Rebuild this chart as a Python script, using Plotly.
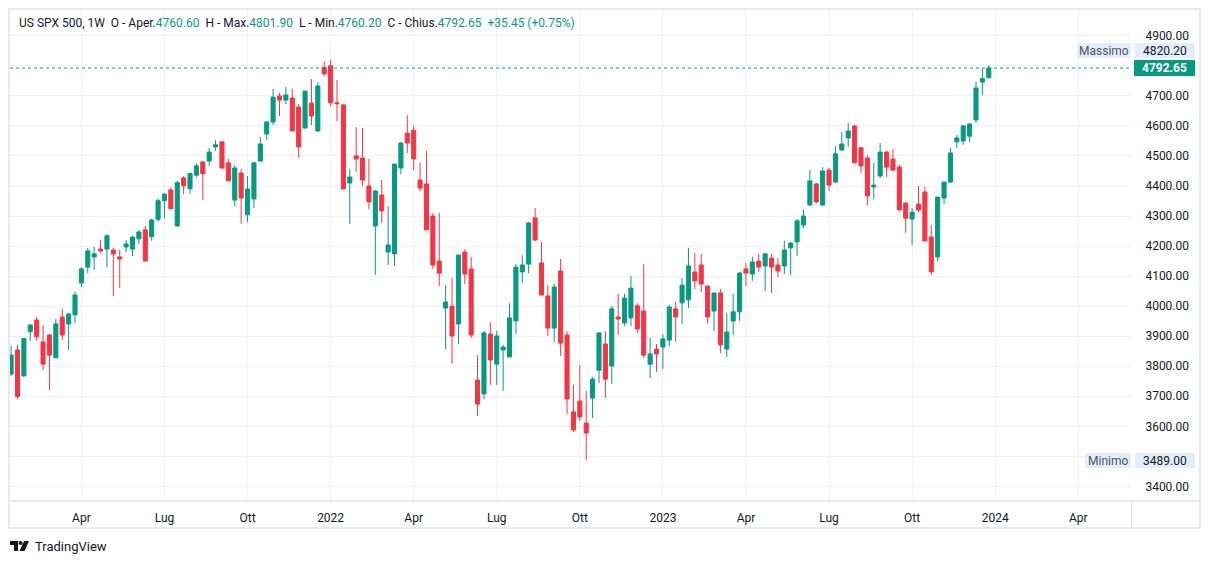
import plotly.graph_objects as go
import pandas as pd

# Weekly candles, Monday dates, starting 2021-01-18
week_start = "2021-01-18"
opens = [3774, 3854, 3768, 3915, 3954, 3881, 3904, 3828, 3964, 3941,
         3971, 4077, 4130, 4164, 4190, 4190, 4187, 4164, 4197, 4190,
         4224, 4254, 4231, 4289, 4351, 4387, 4267, 4427, 4391, 4436,
         4480, 4483, 4530, 4547, 4477, 4353, 4443, 4304, 4357, 4483,
         4573, 4613, 4700, 4686, 4693, 4663, 4593, 4676, 4583, 4795,
         4800, 4677, 4670, 4410, 4500, 4493, 4400, 4267, 4370, 4180,
         4174, 4460, 4576, 4586, 4420, 4407, 4300, 4150, 3994, 4000,
         3941, 4180, 4124, 3754, 3708, 3907, 3807, 3854, 3831, 3951,
         4114, 4140, 4294, 4144, 4034, 3927, 4117, 3904, 3648, 3684,
         3611, 3694, 3787, 3874, 3801, 3964, 3944, 3961, 4001, 3984,
         3807, 3857, 3864, 3887, 3991, 4011, 4021, 4114, 4137, 4067,
         3984, 4044, 3857, 3951, 3981, 4124, 4107, 4150, 4134, 4160,
         4137, 4134, 4194, 4214, 4270, 4337, 4407, 4337, 4453, 4413,
         4520, 4560, 4600, 4527, 4493, 4397, 4433, 4513, 4490, 4463,
         4343, 4290, 4340, 4380, 4230, 4164, 4360, 4413, 4547, 4550,
         4566, 4620, 4746, 4760.60]
highs = [3867, 3871, 3895, 3941, 3964, 3937, 3907, 3957, 3991, 3977,
         4048, 4130, 4194, 4197, 4220, 4240, 4194, 4187, 4220, 4234,
         4254, 4267, 4291, 4358, 4376, 4396, 4418, 4433, 4444, 4476,
         4484, 4527, 4553, 4549, 4490, 4470, 4457, 4433, 4480, 4563,
         4616, 4723, 4710, 4730, 4723, 4673, 4716, 4756, 4746, 4814,
         4820.20, 4753, 4673, 4457, 4596, 4593, 4490, 4387, 4420, 4333,
         4473, 4547, 4636, 4600, 4477, 4517, 4310, 4310, 4070, 4094,
         4170, 4190, 4164, 3837, 3917, 3947, 3917, 3871, 4010, 4140,
         4170, 4280, 4327, 4214, 4070, 4074, 4157, 3917, 3738, 3804,
         3718, 3764, 3911, 3917, 4001, 4041, 4041, 4100, 4010, 4140,
         3894, 3874, 3907, 4004, 4014, 4094, 4194, 4177, 4174, 4067,
         4044, 4057, 3977, 4041, 4114, 4144, 4164, 4174, 4177, 4174,
         4160, 4217, 4214, 4290, 4323, 4453, 4410, 4463, 4460, 4533,
         4580, 4610, 4603, 4530, 4503, 4477, 4543, 4517, 4523, 4470,
         4347, 4327, 4400, 4397, 4270, 4363, 4413, 4527, 4570, 4603,
         4610, 4746, 4790, 4801.90]
lows = [3768, 3691, 3765, 3885, 3885, 3787, 3721, 3828, 3887, 3854,
        3943, 4064, 4110, 4120, 4177, 4130, 4034, 4061, 4180, 4167,
        4207, 4150, 4218, 4282, 4292, 4324, 4265, 4373, 4374, 4429,
        4353, 4467, 4517, 4457, 4417, 4333, 4274, 4280, 4327, 4483,
        4553, 4603, 4633, 4673, 4583, 4493, 4590, 4603, 4581, 4766,
        4667, 4616, 4390, 4274, 4447, 4400, 4323, 4104, 4277, 4137,
        4134, 4440, 4510, 4453, 4383, 4254, 4124, 4067, 3857, 3807,
        3874, 4074, 3894, 3634, 3691, 3738, 3738, 3718, 3831, 3907,
        4077, 4110, 4217, 4037, 3901, 3881, 3834, 3641, 3581, 3618,
        3489.00, 3628, 3744, 3694, 3741, 3904, 3934, 3934, 3911, 3827,
        3761, 3781, 3791, 3867, 3881, 3941, 3994, 4057, 4047, 3941,
        3917, 3844, 3831, 3904, 3951, 4067, 4084, 4114, 4050, 4044,
        4097, 4107, 4104, 4167, 4260, 4333, 4343, 4333, 4383, 4410,
        4517, 4530, 4477, 4443, 4337, 4357, 4427, 4430, 4450, 4320,
        4244, 4204, 4313, 4217, 4104, 4150, 4340, 4410, 4527, 4537,
        4547, 4610, 4703, 4760.20]
closes = [3837, 3699, 3892, 3937, 3898, 3807, 3837, 3941, 3904, 3974,
          4037, 4124, 4184, 4174, 4184, 4234, 4174, 4157, 4207, 4230,
          4247, 4150, 4287, 4351, 4373, 4324, 4411, 4401, 4442, 4467,
          4441, 4513, 4537, 4460, 4417, 4460, 4360, 4390, 4477, 4540,
          4613, 4696, 4686, 4703, 4583, 4530, 4716, 4633, 4733, 4773,
          4677, 4674, 4390, 4430, 4490, 4420, 4347, 4383, 4317, 4204,
          4473, 4543, 4543, 4490, 4393, 4254, 4137, 4110, 4014, 3901,
          4170, 4107, 3904, 3674, 3911, 3821, 3901, 3864, 3961, 4130,
          4137, 4277, 4220, 4037, 3927, 4064, 3877, 3691, 3588, 3631,
          3578, 3757, 3911, 3757, 3991, 3957, 4027, 4060, 3924, 3837,
          3841, 3841, 3891, 3997, 3964, 4070, 4134, 4084, 4074, 3964,
          4044, 3871, 3914, 3981, 4110, 4110, 4147, 4130, 4174, 4130,
          4117, 4187, 4210, 4284, 4300, 4417, 4347, 4450, 4403, 4507,
          4540, 4583, 4477, 4467, 4367, 4403, 4513, 4463, 4453, 4320,
          4293, 4313, 4320, 4217, 4114, 4363, 4413, 4510, 4560, 4600,
          4606, 4726, 4757.20, 4792.65]

dates = pd.date_range(week_start, periods=len(opens), freq="7D")

x_tick_dates = ["2021-04-05", "2021-07-05", "2021-10-04", "2022-01-03", "2022-04-04",
                "2022-07-04", "2022-10-03", "2023-01-02", "2023-04-03", "2023-07-03",
                "2023-10-02", "2024-01-01", "2024-04-01"]
x_tick_labels = ["Apr", "Lug", "Ott", "2022", "Apr", "Lug", "Ott", "2023", "Apr", "Lug",
                 "Ott", "2024", "Apr"]
y_ticks = list(range(3400, 5000, 100))
# 4800 and 3500 are covered by the price labels on the axis
y_labels = ["" if v in (4800, 3500) else f"{v:.2f}" for v in y_ticks]

last_price = 4792.65
max_price = 4820.20
min_price = 3489.00

GREEN = "#089981"
RED = "#F23645"
TXT = "#131722"
GRID = "#F0F1F3"
BORDER = "#E0E3EB"
FONT = "Roboto, 'Liberation Sans', sans-serif"

# pixel -> paper helpers (plot area x 10..1131, y 10..501)
def px(x):
    return (x - 10) / 1121.0

def py(y):
    return (501 - y) / 491.0

fig = go.Figure()
fig.add_trace(go.Candlestick(
    x=dates, open=opens, high=highs, low=lows, close=closes,
    increasing=dict(line=dict(color=GREEN, width=1), fillcolor=GREEN),
    decreasing=dict(line=dict(color=RED, width=1), fillcolor=RED),
    whiskerwidth=0, hoverinfo="skip", showlegend=False,
))

shapes = []
# outer frame
shapes.append(dict(type="rect", xref="paper", yref="paper",
                   x0=px(9), x1=px(1200), y0=py(528), y1=py(9),
                   line=dict(color=BORDER, width=1.5), fillcolor="rgba(0,0,0,0)", layer="above"))
# time axis separator
shapes.append(dict(type="line", xref="paper", yref="paper",
                   x0=px(9), x1=px(1200), y0=py(501), y1=py(501),
                   line=dict(color=BORDER, width=1.5), layer="above"))
# price axis separator in time-axis area
shapes.append(dict(type="line", xref="paper", yref="paper",
                   x0=px(1131.5), x1=px(1131.5), y0=py(528), y1=py(501),
                   line=dict(color=BORDER, width=1), layer="above"))
# dotted current price line
shapes.append(dict(type="line", xref="paper", yref="y",
                   x0=0, x1=1, y0=last_price, y1=last_price,
                   line=dict(color=GREEN, width=1, dash="dot"), layer="above"))

LBL_BG = "#E3EEFC"
# Massimo / Minimo boxes
for (x0, x1, y0, y1) in [(1077, 1131, 43, 58), (1135, 1195, 43, 58),
                         (1085, 1131, 453, 468), (1135, 1195, 453, 468)]:
    shapes.append(dict(type="rect", xref="paper", yref="paper",
                       x0=px(x0), x1=px(x1), y0=py(y1), y1=py(y0),
                       line=dict(width=0), fillcolor=LBL_BG, layer="above"))
# current price box
shapes.append(dict(type="rect", xref="paper", yref="paper",
                   x0=px(1134), x1=px(1195), y0=py(76), y1=py(60),
                   line=dict(width=0), fillcolor=GREEN, layer="above"))

# TradingView logo (simple shapes)
shapes.append(dict(type="rect", xref="paper", yref="paper",
                   x0=px(10), x1=px(18), y0=py(545), y1=py(541),
                   line=dict(width=0), fillcolor=TXT))
shapes.append(dict(type="rect", xref="paper", yref="paper",
                   x0=px(14), x1=px(18), y0=py(551), y1=py(541),
                   line=dict(width=0), fillcolor=TXT))
shapes.append(dict(type="circle", xref="paper", yref="paper",
                   x0=px(18.5), x1=px(22.5), y0=py(545), y1=py(541),
                   line=dict(width=0), fillcolor=TXT))
shapes.append(dict(type="path", xref="paper", yref="paper",
                   path=f"M {px(24)} {py(541)} L {px(29)} {py(541)} L {px(24.5)} {py(551)} L {px(19.5)} {py(551)} Z",
                   line=dict(width=0), fillcolor=TXT))

annotations = []
hdr = (f'<span style="color:{TXT}">US SPX 500, 1W&nbsp;&nbsp;O - Aper.</span>'
       f'<span style="color:{GREEN}">{opens[-1]:.2f}</span>'
       f'<span style="color:{TXT}">&nbsp;&nbsp;H - Max.</span>'
       f'<span style="color:{GREEN}">{highs[-1]:.2f}</span>'
       f'<span style="color:{TXT}">&nbsp;&nbsp;L - Min.</span>'
       f'<span style="color:{GREEN}">{lows[-1]:.2f}</span>'
       f'<span style="color:{TXT}">&nbsp;&nbsp;C - Chius.</span>'
       f'<span style="color:{GREEN}">{closes[-1]:.2f}</span>'
       f'<span style="color:{GREEN}">&nbsp;&nbsp;+{closes[-1]-closes[-2]:.2f} '
       f'(+{(closes[-1]/closes[-2]-1)*100:.2f}%)</span>')
annotations.append(dict(xref="paper", yref="paper", x=px(17), y=py(23), xanchor="left",
                        yanchor="middle", text=hdr, showarrow=False,
                        font=dict(family=FONT, size=12, color=TXT)))
annotations.append(dict(xref="paper", yref="paper", x=px(1104), y=py(50.5), text="Massimo",
                        showarrow=False, xanchor="center", yanchor="middle",
                        font=dict(family=FONT, size=12, color="#50535E")))
annotations.append(dict(xref="paper", yref="paper", x=px(1165), y=py(50.5), text=f"{max_price:.2f}",
                        showarrow=False, xanchor="center", yanchor="middle",
                        font=dict(family=FONT, size=12, color=TXT)))
annotations.append(dict(xref="paper", yref="paper", x=px(1108), y=py(460.5), text="Minimo",
                        showarrow=False, xanchor="center", yanchor="middle",
                        font=dict(family=FONT, size=12, color="#50535E")))
annotations.append(dict(xref="paper", yref="paper", x=px(1165), y=py(460.5), text=f"{min_price:.2f}",
                        showarrow=False, xanchor="center", yanchor="middle",
                        font=dict(family=FONT, size=12, color=TXT)))
annotations.append(dict(xref="paper", yref="paper", x=px(1164.5), y=py(68), text=f"<b>{last_price:.2f}</b>",
                        showarrow=False, xanchor="center", yanchor="middle",
                        font=dict(family=FONT, size=12, color="white")))
annotations.append(dict(xref="paper", yref="paper", x=px(33), y=py(546.5), text="TradingView",
                        showarrow=False, xanchor="left", yanchor="middle",
                        font=dict(family=FONT, size=13, color=TXT)))

fig.update_layout(
    width=1209, height=564, autosize=False,
    margin=dict(l=10, r=78, t=10, b=63, pad=0),
    paper_bgcolor="white", plot_bgcolor="white",
    font=dict(family=FONT, size=12, color=TXT),
    boxgap=0.2, boxgroupgap=0.2,
    shapes=shapes, annotations=annotations,
    showlegend=False, hovermode=False,
    xaxis=dict(type="date", range=["2021-01-16 19:00", "2024-05-28 19:00"],
               rangeslider=dict(visible=False),
               tickvals=x_tick_dates, ticktext=x_tick_labels,
               showgrid=True, gridcolor=GRID, gridwidth=1,
               showline=False, zeroline=False,
               ticks="outside", ticklen=6, tickcolor="rgba(0,0,0,0)",
               tickfont=dict(family=FONT, size=12, color=TXT)),
    yaxis=dict(side="right", range=[3351.4, 4985.9],
               tickvals=y_ticks, ticktext=y_labels,
               showgrid=True, gridcolor=GRID, gridwidth=1,
               showline=False, zeroline=False,
               ticks="outside", ticklen=11, tickcolor="rgba(0,0,0,0)",
               tickfont=dict(family=FONT, size=12, color=TXT)),
)

fig.write_html("out.html", config={"displayModeBar": False},
               post_script="document.body.style.margin='0px';")
